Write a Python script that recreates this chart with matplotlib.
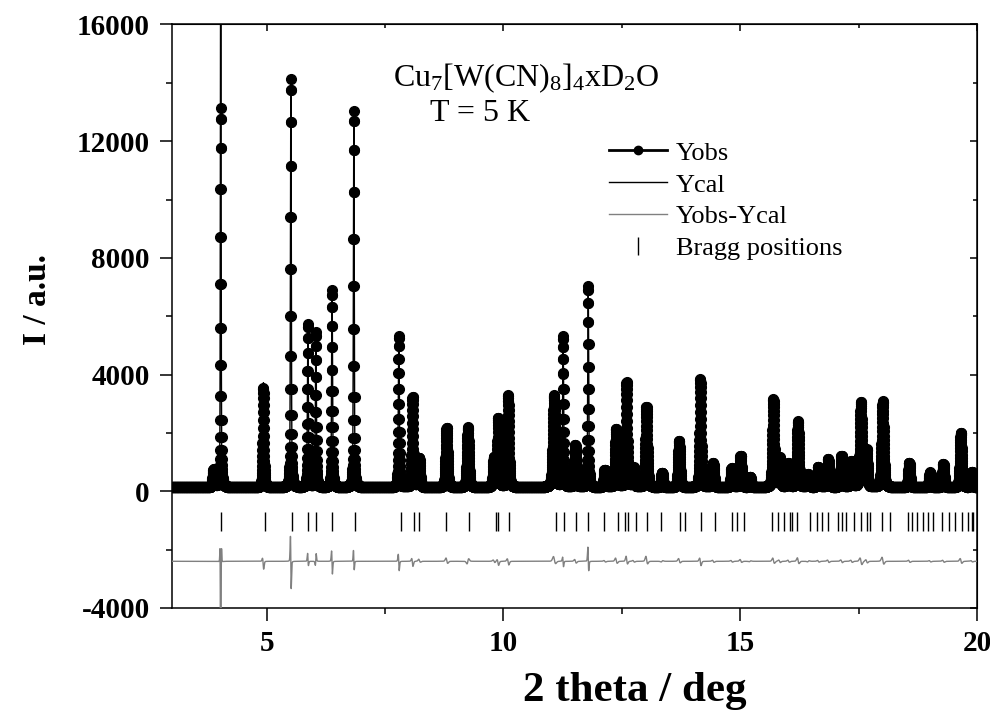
import numpy as np
import matplotlib
matplotlib.use("Agg")
import matplotlib.pyplot as plt
from matplotlib.lines import Line2D

plt.rcParams['font.family'] = ['Liberation Serif', 'DejaVu Serif']
plt.rcParams['mathtext.fontset'] = 'custom'
plt.rcParams['mathtext.rm'] = 'Liberation Serif'
plt.rcParams['axes.unicode_minus'] = False

# peak list read off the figure: centre (deg), observed / calculated height,
# width (deg) and small shift of the calculated peak (deg)
peak_pos = [3.88, 4.03, 4.93, 5.51, 5.87, 6.04, 6.38, 6.84, 7.79, 8.08,
            8.22, 8.80, 9.25, 9.80, 9.89, 10.10, 11.07, 11.26, 11.52, 11.79,
            12.14, 12.38, 12.60, 12.75, 13.02, 13.35, 13.71, 14.16, 14.43, 14.82,
            15.01, 15.21, 15.70, 15.83, 16.02, 16.22, 16.44, 16.65, 16.86, 17.14,
            17.35, 17.55, 17.67, 18.01, 18.57, 19.01, 19.29, 19.66, 19.89]
obs_height = [600, 13000, 3400, 14000, 5600, 5300, 6750, 12900, 5200, 3100,
              1000, 2050, 2050, 1000, 2350, 3150, 3150, 5150, 1450, 6900,
              600, 2000, 3600, 650, 2750, 500, 1600, 3700, 820, 650,
              1080, 350, 3000, 1000, 810, 2250, 430, 690, 960, 1080,
              870, 2900, 1250, 2950, 850, 510, 800, 1880, 520]
calc_height = [600, 20000, 3600, 14100, 5450, 5150, 6850, 12800, 5300, 3200,
               950, 2000, 2050, 1000, 2450, 3200, 3050, 5200, 1450, 6700,
               600, 1950, 3500, 650, 2650, 500, 1550, 3750, 820, 650,
               1050, 350, 2950, 1000, 800, 2200, 430, 690, 960, 1080,
               870, 2900, 1250, 2900, 850, 510, 800, 1850, 520]
peak_width = [0.02, 0.009, 0.014, 0.009, 0.010, 0.010, 0.010, 0.009, 0.011, 0.015,
              0.02, 0.02, 0.02, 0.02, 0.018, 0.018, 0.025, 0.011, 0.02, 0.010,
              0.02, 0.02, 0.017, 0.02, 0.02, 0.02, 0.02, 0.017, 0.02, 0.02,
              0.02, 0.02, 0.02, 0.02, 0.02, 0.02, 0.02, 0.02, 0.02, 0.02,
              0.02, 0.022, 0.02, 0.022, 0.02, 0.02, 0.02, 0.02, 0.02]
calc_shift = [0, 0, 0.001, 0.001, 0.0006, -0.0006, 0.001, 0.0004, 0.001, 0.001,
              0.0015, 0.0015, -0.0015, 0.0015, 0.001, 0.001, 0.0015, 0.0006, 0.0015, 0.001,
              0.0015, 0.0015, 0.001, 0.0015, 0.0015, -0.0015, 0.0015, 0.001, 0.0015, 0.0015,
              0.0015, -0.0015, 0.001, 0.0015, 0.0015, 0.0015, -0.0015, 0.0015, 0.0015, 0.0015,
              0.0015, 0.0015, 0.0015, 0.0015, 0.0015, 0.0015, 0.0015, 0.0015, 0.0015]
lorentz_frac = 0.35

bragg_pos = [4.04, 4.96, 5.53, 5.87, 6.04, 6.39, 6.86, 7.83, 8.11, 8.22,
             8.79, 9.27, 9.84, 9.88, 10.12, 11.10, 11.27, 11.54, 11.79, 12.13,
             12.41, 12.57, 12.64, 12.81, 13.03, 13.33, 13.73, 13.83, 14.17, 14.47,
             14.83, 14.94, 15.09, 15.67, 15.80, 15.93, 16.05, 16.09, 16.19, 16.47,
             16.63, 16.73, 16.86, 17.06, 17.14, 17.23, 17.41, 17.55, 17.67, 17.74,
             18.00, 18.16, 18.55, 18.62, 18.73, 18.87, 18.97, 19.08, 19.26, 19.40,
             19.54, 19.68, 19.82, 19.89, 19.92]

background = 130
diff_offset = -2400
step = 0.002


def pvoigt(x, c, w):
    gam = 1.177 * w
    return ((1 - lorentz_frac) * np.exp(-(x - c) ** 2 / (2 * w ** 2))
            + lorentz_frac / (1 + ((x - c) / gam) ** 2))


tth = np.arange(3.0, 20.0 + step / 2, step)
yobs = np.full_like(tth, background, dtype=float)
ycal = np.full_like(tth, background, dtype=float)
for c, ho, hc, w, dc in zip(peak_pos, obs_height, calc_height, peak_width, calc_shift):
    yobs += ho * pvoigt(tth, c, w)
    ycal += hc * pvoigt(tth, c + dc, w * np.sqrt(ho / hc))
ydiff = yobs - ycal + diff_offset

fig = plt.figure(figsize=(9.9, 7.13), dpi=100)
ax = fig.add_axes([0.1737, 0.1473, 0.8131, 0.8184])

ax.plot(tth, yobs, ls='none', marker='o', ms=7, color='black', zorder=2)
ax.plot(tth, ycal, color='black', lw=1.0, zorder=3)
ax.plot(tth, ydiff, color='#808080', lw=1.0, zorder=3)
ax.vlines(bragg_pos, -1350, -700, color='black', lw=1.0)

ax.set_xlim(3, 20)
ax.set_ylim(-4000, 16000)
xmaj, xmin = [5, 10, 15, 20], [7.5, 12.5, 17.5]
ymaj = [-4000, 0, 4000, 8000, 12000, 16000]
ymin = [-2000, 2000, 6000, 10000, 14000]
ax.set_xticks(xmaj)
ax.set_xticks(xmin, minor=True)
ax.set_yticks(ymaj)
ax.set_yticks(ymin, minor=True)
ax.tick_params(which='both', direction='out', width=1.1)
ax.tick_params(which='major', length=9, pad=7)
ax.tick_params(which='minor', length=4.5)
for lab in ax.get_xticklabels() + ax.get_yticklabels():
    lab.set_fontsize(21)
    lab.set_fontweight('bold')
for sp in ax.spines.values():
    sp.set_linewidth(1.1)

# inward ticks on the top and right sides
top = ax.secondary_xaxis('top')
top.set_xticks(xmaj)
top.set_xticks(xmin, minor=True)
top.tick_params(which='both', direction='in', width=1.1, labeltop=False)
top.tick_params(which='major', length=5)
top.tick_params(which='minor', length=3)
right = ax.secondary_yaxis('right')
right.set_yticks(ymaj)
right.set_yticks(ymin, minor=True)
right.tick_params(which='both', direction='in', width=1.1, labelright=False)
right.tick_params(which='major', length=5)
right.tick_params(which='minor', length=3)

ax.set_xlabel('2 theta / deg', fontsize=31, fontweight='bold')
ax.xaxis.set_label_coords(0.575, -0.11)
ax.set_ylabel('I / a.u.', fontsize=24, fontweight='bold')
ax.yaxis.set_label_coords(-0.148, 0.528)

ax.text(7.667, 13870, r'Cu$\mathregular{_7}$[W(CN)$\mathregular{_8}$]$\mathregular{_4}$xD$\mathregular{_2}$O',
        fontsize=23, ha='left', va='baseline')
ax.text(8.45, 12680, 'T = 5 K', fontsize=23, ha='left', va='baseline')

handles = [
    Line2D([], [], color='black', lw=2, marker='o', ms=6),
    Line2D([], [], color='black', lw=1),
    Line2D([], [], color='#808080', lw=1),
    Line2D([], [], ls='none', marker='|', ms=13, mew=1.0, color='black'),
]
labels = ['Yobs', 'Ycal', 'Yobs-Ycal', 'Bragg positions']
fig.legend(handles, labels, loc='upper left', bbox_to_anchor=(0.615, 0.802),
           frameon=False, fontsize=19, handlelength=2.2, handletextpad=0.35,
           labelspacing=0.32, borderpad=0, borderaxespad=0)

fig.savefig('out.png', dpi=100)
